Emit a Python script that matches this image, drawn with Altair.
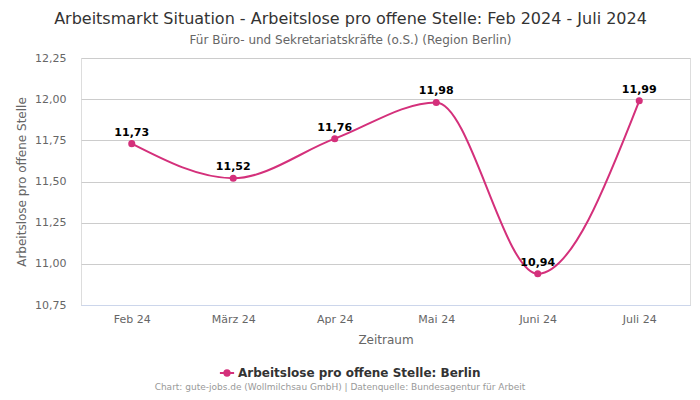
import altair as alt
import pandas as pd

months = ["Feb 24", "März 24", "Apr 24", "Mai 24", "Juni 24", "Juli 24"]
values = [11.73, 11.52, 11.76, 11.98, 10.94, 11.99]
series_name = "Arbeitslose pro offene Stelle: Berlin"
y_ticks = [10.75, 11.00, 11.25, 11.50, 11.75, 12.00, 12.25]
credit = "Chart: gute-jobs.de (Wollmilchsau GmbH) | Datenquelle: Bundesagentur für Arbeit"

COLOR = "#d4307b"
FONT = "DejaVu Sans"

df = pd.DataFrame({"month": months, "value": values, "series": [series_name] * len(months)})

x_enc = alt.X("month:N", sort=months, title="Zeitraum",
              axis=alt.Axis(labelAngle=0, ticks=False, labelColor="#666666", labelFontSize=11,
                            labelPadding=8, domainColor="#ccd6eb", titleColor="#666666",
                            titleFontSize=12, titleFontWeight="normal", titlePadding=10, grid=False))
y_enc = alt.Y("value:Q", title="Arbeitslose pro offene Stelle",
              scale=alt.Scale(domain=[10.75, 12.25], nice=False, zero=False),
              axis=alt.Axis(values=y_ticks, labelExpr="replace(format(datum.value, '.2f'), '.', ',')",
                            ticks=False, domain=False, gridColor="#cccccc", labelColor="#666666",
                            labelFontSize=11, labelPadding=15, titleColor="#666666", titleFontSize=12,
                            titleFontWeight="normal", titlePadding=6))

base = alt.Chart(df)

legend_symbol = "M-1.2,0 L1.2,0 M-0.45,0 A0.45,0.45 0 1,1 0.45,0 A0.45,0.45 0 1,1 -0.45,0 Z"

line = base.mark_line(interpolate="monotone", strokeWidth=2).encode(
    x=x_enc, y=y_enc,
    color=alt.Color("series:N", scale=alt.Scale(range=[COLOR]),
                    legend=alt.Legend(title=None, orient="none", legendX=139, legendY=308,
                                      symbolType=legend_symbol, symbolSize=140,
                                      symbolStrokeWidth=2, symbolFillColor=COLOR,
                                      labelFontSize=12, labelFontWeight="bold", labelLimit=500,
                                      labelColor="#333333", labelFont=FONT)),
)
points = base.mark_point(filled=True, size=50, opacity=1, color=COLOR).encode(
    x=alt.X("month:N", sort=months), y="value:Q")
labels = base.transform_calculate(
    lab="replace(format(datum.value, '.2f'), '.', ',')"
).mark_text(dy=-11, fontWeight="bold", fontSize=11, color="#000000", font=FONT).encode(
    x=alt.X("month:N", sort=months), y="value:Q", text="lab:N")

footer = alt.Chart(pd.DataFrame({"t": [credit]})).mark_text(
    fontSize=9, color="#999999", font=FONT, baseline="alphabetic").encode(
    text="t:N", x=alt.value(259), y=alt.value(332))

chart = alt.layer(line, points, labels, footer).properties(
    width=609, height=247,
    title=alt.TitleParams(
        text="Arbeitsmarkt Situation - Arbeitslose pro offene Stelle: Feb 2024 - Juli 2024",
        subtitle="Für Büro- und Sekretariatskräfte (o.S.) (Region Berlin)",
        fontSize=16, fontWeight="normal", color="#333333", font=FONT,
        subtitleFontSize=12, subtitleColor="#666666", subtitleFont=FONT,
        subtitlePadding=8, offset=6, anchor="middle", dx=-35),
    autosize=alt.AutoSizeParams(type="none"),
    padding={"left": 73, "top": 50, "right": 2, "bottom": 87},
).configure_view(stroke="transparent", strokeWidth=0).configure(font=FONT)

chart.save("out.html", embed_options={"renderer": "svg", "actions": False})
